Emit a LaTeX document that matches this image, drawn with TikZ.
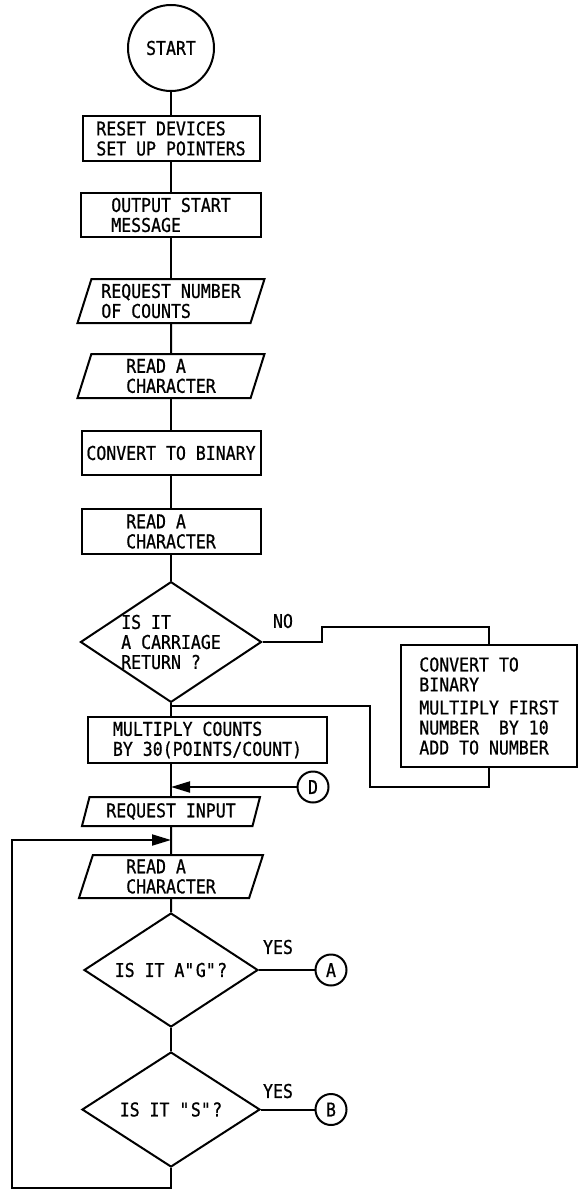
\documentclass[tikz,border=0pt]{standalone}
\usepackage{fontspec}
\setmainfont{DejaVu Sans Mono}[FakeStretch=0.87,FakeBold=0.8]
\usetikzlibrary{shapes.geometric,arrows.meta}
\begin{document}
\begin{tikzpicture}[x=1pt,y=-1pt,line width=2pt,
  >={Triangle[length=19pt,width=11pt]},
  every node/.style={font=\fontsize{19}{20}\selectfont,align=left},
  hop/.style={draw,rectangle,inner sep=2pt},
  vao/.style={draw,trapezium,trapezium left angle=70,trapezium right angle=110,
    trapezium stretches body,inner sep=2pt},
  hoi/.style={draw,diamond,aspect=1.5,inner sep=0pt},
  noi/.style={draw,circle,minimum size=31pt,inner sep=0pt}]
\useasboundingbox (0,0) rectangle (578,1190);
% Các khối chính
\node[noi,minimum size=86pt] (start) at (171,48) {START};
\node[hop,minimum width=177pt,minimum height=45pt] (reset) at (171,138.5) {RESET DEVICES\\SET UP POINTERS};
\node[hop,minimum width=180pt,minimum height=44pt] (outmsg) at (171,215) {OUTPUT START\\MESSAGE};
\node[vao,minimum width=187pt,minimum height=44pt] (reqnum) at (171,301) {REQUEST NUMBER\\OF COUNTS};
\node[vao,minimum width=187pt,minimum height=44pt] (rdchA) at (171,376) {READ A\\CHARACTER};
\node[hop,minimum width=179pt,minimum height=44pt] (conv) at (171,453) {CONVERT TO BINARY};
\node[hop,minimum width=179pt,minimum height=45pt] (rdchB) at (171,531.5) {READ A\\CHARACTER};
\node[hoi,minimum width=172pt,minimum height=114pt] (iscr) at (171,642) {IS IT\\A CARRIAGE\\RETURN ?};
\node[hop,minimum width=176pt,minimum height=122pt] (binbox) at (489,706) {CONVERT TO\\BINARY\\[3pt]MULTIPLY FIRST\\NUMBER\ \ BY 10\\ADD TO NUMBER};
\node[hop,minimum width=239pt,minimum height=46pt] (mult) at (207.5,740) {MULTIPLY COUNTS\\BY 30(POINTS/COUNT)};
\node[noi] (dcon) at (313,787) {D};
\node[vao,minimum width=178pt,minimum height=29pt] (reqin) at (171,811.5) {REQUEST INPUT};
\node[vao,minimum width=184pt,minimum height=43pt] (rdchC) at (171,876.5) {READ A\\CHARACTER};
\node[hoi,minimum width=174pt,minimum height=114pt] (isg) at (171,970) {IS IT A\textquotedbl G\textquotedbl ?};
\node[noi] (acon) at (331,970) {A};
\node[hoi,minimum width=178pt,minimum height=115pt] (iss) at (171,1109.5) {IS IT \textquotedbl S\textquotedbl ?};
\node[noi] (bcon) at (331,1109.5) {B};
% Nhãn
\node (nolab) at (283,621) {NO};
\node (yesg) at (278,947) {YES};
\node (yess) at (278,1091) {YES};
% Các điểm nối trên trục chính
\coordinate (jn) at (171,706);
\coordinate (dj) at (171,787);
\coordinate (lj) at (171,840);
% Đường nối
\foreach \a/\b in {start/reset,reset/outmsg,outmsg/reqnum,reqnum/rdchA,rdchA/conv,conv/rdchB,rdchB/iscr,reqin/rdchC,rdchC/isg,isg/iss}
\draw (\a) -- (\b);
\draw (iscr.south) -- (iscr.south |- mult.north);
\draw (reqin.north |- mult.south) -- (reqin.north);
\draw (iscr.east) -- ++(59,0) -- ++(0,-15) -| (binbox.north);
\draw (binbox.south) -- ++(0,19) -| (370,706) -- (jn);
\draw[->] (dcon) -- (dj);
\draw[->] (iss.south) |- (12,1188) |- (lj);
\draw (isg.east) -- (acon);
\draw (iss.east) -- (bcon);
\end{tikzpicture}
\end{document}
